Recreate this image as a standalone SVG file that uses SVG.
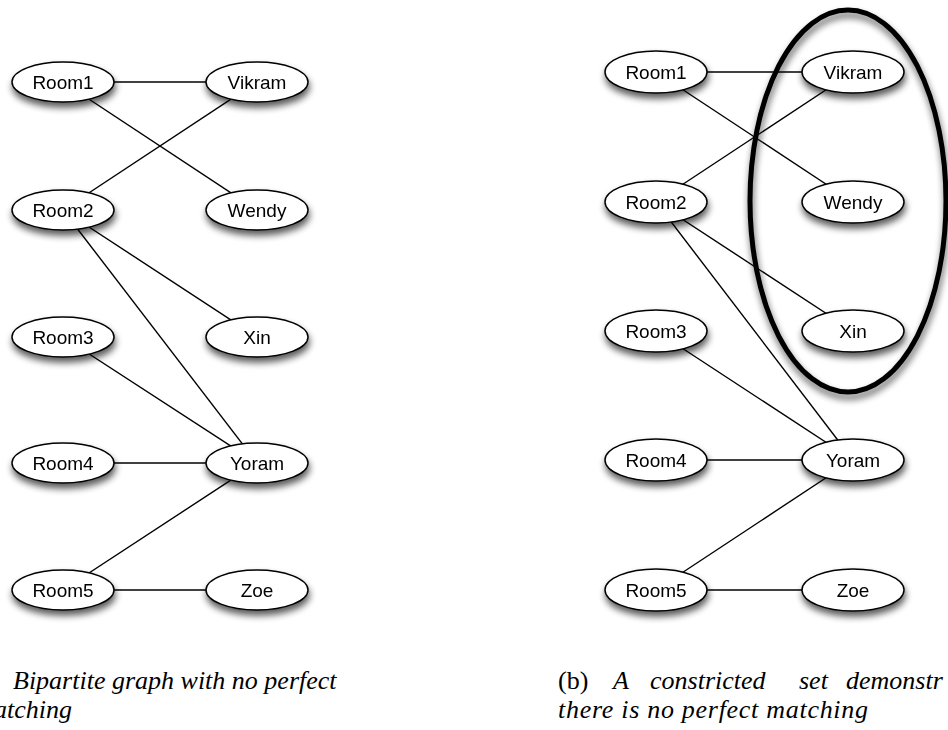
<svg xmlns="http://www.w3.org/2000/svg" width="948" height="730" viewBox="0 0 948 730">
  <defs>
    <!-- soft drop shadow used by the nodes and the set outline -->
    <filter id="shadow" x="-30%" y="-40%" width="160%" height="200%">
      <feGaussianBlur in="SourceAlpha" stdDeviation="3.5"/>
      <feOffset dx="1" dy="4.5"/>
      <feComponentTransfer><feFuncA type="linear" slope="0.65"/></feComponentTransfer>
      <feMerge><feMergeNode/><feMergeNode in="SourceGraphic"/></feMerge>
    </filter>
    <style>
      .edge { stroke: #000; stroke-width: 1.4; fill: none; }
      .node ellipse { fill: #fff; stroke: #000; stroke-width: 1.5; }
      .node { filter: url(#shadow); }
      .label { font-family: "Liberation Sans", Arial, sans-serif; font-size: 19px; text-anchor: middle; fill: #000; }
      .cap { font-family: "Liberation Serif", "DejaVu Serif", serif; font-size: 26px; font-style: italic; fill: #000; }
      .up { font-style: normal; }
      .set { fill: none; stroke: #000; stroke-width: 5; filter: url(#shadow); }
    </style>
  </defs>

  <!-- ===== Graph (a) ===== -->
  <g id="edges-a">
    <line class="edge" x1="63" y1="82" x2="257" y2="82"/>
    <line class="edge" x1="63" y1="82" x2="257" y2="210"/>
    <line class="edge" x1="63" y1="210" x2="257" y2="82"/>
    <line class="edge" x1="63" y1="210" x2="257" y2="337"/>
    <line class="edge" x1="63" y1="210" x2="257" y2="463"/>
    <line class="edge" x1="63" y1="337" x2="257" y2="463"/>
    <line class="edge" x1="63" y1="463" x2="257" y2="463"/>
    <line class="edge" x1="63" y1="590" x2="257" y2="463"/>
    <line class="edge" x1="63" y1="590" x2="257" y2="590"/>
  </g>

  <g id="a-room1" class="node"><ellipse cx="63" cy="82" rx="51" ry="20"/><text class="label" x="63" y="89">Room1</text></g>
  <g id="a-room2" class="node"><ellipse cx="63" cy="210" rx="51" ry="20"/><text class="label" x="63" y="217">Room2</text></g>
  <g id="a-room3" class="node"><ellipse cx="63" cy="337" rx="51" ry="20"/><text class="label" x="63" y="344">Room3</text></g>
  <g id="a-room4" class="node"><ellipse cx="63" cy="463" rx="51" ry="20"/><text class="label" x="63" y="470">Room4</text></g>
  <g id="a-room5" class="node"><ellipse cx="63" cy="590" rx="51" ry="20"/><text class="label" x="63" y="597">Room5</text></g>
  <g id="a-vikram" class="node"><ellipse cx="257" cy="82" rx="51" ry="20"/><text class="label" x="257" y="89">Vikram</text></g>
  <g id="a-wendy" class="node"><ellipse cx="257" cy="210" rx="51" ry="20"/><text class="label" x="257" y="217">Wendy</text></g>
  <g id="a-xin" class="node"><ellipse cx="257" cy="337" rx="51" ry="20"/><text class="label" x="257" y="344">Xin</text></g>
  <g id="a-yoram" class="node"><ellipse cx="257" cy="463" rx="51" ry="20"/><text class="label" x="257" y="470">Yoram</text></g>
  <g id="a-zoe" class="node"><ellipse cx="257" cy="590" rx="51" ry="20"/><text class="label" x="257" y="597">Zoe</text></g>

  <!-- caption (a), running off the left edge -->
  <g id="caption-a">
    <text class="cap" x="13" y="689">Bipartite graph with no perfect</text>
    <text class="cap" x="-6" y="718">atching</text>
  </g>

  <!-- ===== Graph (b) ===== -->
  <g id="edges-b">
    <line class="edge" x1="656" y1="72" x2="853" y2="72"/>
    <line class="edge" x1="656" y1="72" x2="853" y2="202"/>
    <line class="edge" x1="656" y1="202" x2="853" y2="72"/>
    <line class="edge" x1="656" y1="202" x2="853" y2="331"/>
    <line class="edge" x1="656" y1="202" x2="853" y2="460"/>
    <line class="edge" x1="656" y1="331" x2="853" y2="460"/>
    <line class="edge" x1="656" y1="460" x2="853" y2="460"/>
    <line class="edge" x1="656" y1="590" x2="853" y2="460"/>
    <line class="edge" x1="656" y1="590" x2="853" y2="590"/>
  </g>

  <!-- constricted set outline around Vikram, Wendy, Xin -->
  <g id="constricted-set">
    <ellipse class="set" cx="848" cy="201" rx="98" ry="191"/>
  </g>

  <g id="b-room1" class="node"><ellipse cx="656" cy="72" rx="51" ry="21"/><text class="label" x="656" y="79">Room1</text></g>
  <g id="b-room2" class="node"><ellipse cx="656" cy="202" rx="51" ry="21"/><text class="label" x="656" y="209">Room2</text></g>
  <g id="b-room3" class="node"><ellipse cx="656" cy="331" rx="51" ry="21"/><text class="label" x="656" y="338">Room3</text></g>
  <g id="b-room4" class="node"><ellipse cx="656" cy="460" rx="51" ry="21"/><text class="label" x="656" y="467">Room4</text></g>
  <g id="b-room5" class="node"><ellipse cx="656" cy="590" rx="51" ry="21"/><text class="label" x="656" y="597">Room5</text></g>
  <g id="b-vikram" class="node"><ellipse cx="853" cy="72" rx="51" ry="21"/><text class="label" x="853" y="79">Vikram</text></g>
  <g id="b-wendy" class="node"><ellipse cx="853" cy="202" rx="51" ry="21"/><text class="label" x="853" y="209">Wendy</text></g>
  <g id="b-xin" class="node"><ellipse cx="853" cy="331" rx="51" ry="21"/><text class="label" x="853" y="338">Xin</text></g>
  <g id="b-yoram" class="node"><ellipse cx="853" cy="460" rx="51" ry="21"/><text class="label" x="853" y="467">Yoram</text></g>
  <g id="b-zoe" class="node"><ellipse cx="853" cy="590" rx="51" ry="21"/><text class="label" x="853" y="597">Zoe</text></g>

  <!-- caption (b), justified first line running off the right edge -->
  <g id="caption-b">
    <text class="cap up" x="558" y="689">(b)</text>
    <text class="cap" x="613" y="689">A</text>
    <text class="cap" x="650" y="689">constricted</text>
    <text class="cap" x="799" y="689">set</text>
    <text class="cap" x="846" y="689">demonstr</text>
    <text class="cap" x="558" y="718" textLength="310" lengthAdjust="spacing">there is no perfect matching</text>
  </g>
</svg>
